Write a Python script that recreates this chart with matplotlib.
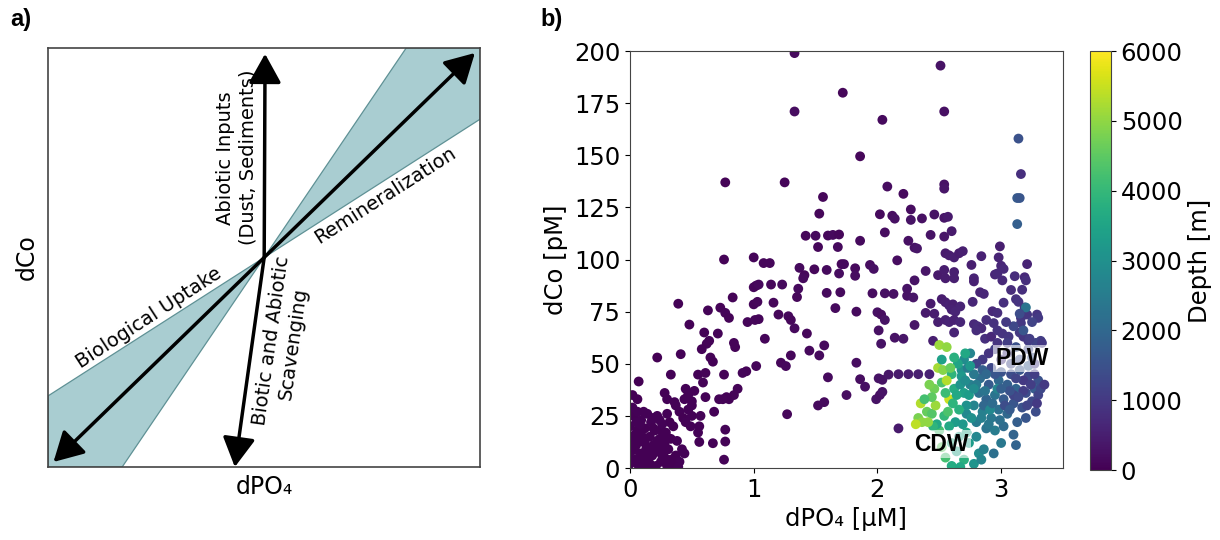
import numpy as np
import matplotlib
matplotlib.use("Agg")
import matplotlib.pyplot as plt
from matplotlib.patches import Polygon, FancyArrowPatch
from matplotlib.colors import Normalize

# ---- panel b data: dissolved PO4 [uM], dissolved Co [pM], sample depth [m] ----
# upper ocean samples
upper_po4 = [
    1.33, 2.51, 1.72, 1.33, 2.54, 2.04, 1.86, 0.77, 1.25, 2.54,
    2.54, 2.08, 2.21, 1.56, 2.27, 1.53, 2.02, 2.12, 2.14, 2.27,
    2.36, 2.46, 2.54, 2.57, 2.06, 2.60, 1.42, 1.50, 1.60, 1.64,
    1.69, 2.43, 2.54, 1.86, 2.25, 2.30, 2.32, 1.52, 1.68, 2.99,
    2.55, 2.58, 2.62, 2.66, 2.69, 0.76, 1.00, 2.16, 2.76, 2.84,
    2.98, 3.00, 3.02, 3.21, 1.08, 1.13, 1.37, 1.41, 1.40, 1.49,
    1.59, 1.71, 1.73, 1.69, 1.82, 1.82, 1.94, 1.97, 2.39, 2.49,
    2.54, 2.62, 2.55, 2.62, 2.78, 2.78, 2.95, 2.97, 3.01, 3.08,
    3.17, 3.19, 3.11, 3.20, 1.00, 1.02, 1.04, 1.14, 1.23, 2.24,
    2.13, 2.30, 1.70, 1.59, 1.35, 1.36, 1.96, 2.06, 2.24, 2.29,
    2.83, 2.86, 3.02, 3.12, 3.14, 0.83, 1.00, 1.03, 1.16, 0.39,
    2.43, 2.46, 2.52, 2.55, 2.58, 2.61, 2.67, 2.60, 2.63, 2.39,
    2.77, 2.93, 2.97, 3.19, 3.21, 3.29, 3.30, 3.16, 3.16, 1.66,
    1.83, 0.63, 0.73, 0.77, 0.80, 1.20, 1.28, 1.30, 1.33, 0.95,
    1.01, 1.04, 2.00, 2.03, 2.06, 2.30, 2.49, 2.55, 2.58, 2.62,
    2.67, 2.78, 2.81, 2.84, 2.88, 2.94, 2.62, 2.80, 3.01, 3.06,
    3.15, 3.18, 3.22, 3.32, 0.48, 0.71, 0.60, 0.64, 0.62, 0.84,
    0.85, 1.43, 2.01, 2.03, 2.14, 2.21, 2.45, 1.09, 1.57, 1.45,
    0.58, 0.65, 0.67, 0.22, 0.41, 1.30, 1.53, 1.22, 1.26, 1.83,
    1.02, 0.94, 0.91, 0.76, 0.33, 0.55, 0.61, 1.60, 1.86, 1.90,
    2.01, 2.04, 2.09, 2.17, 2.25, 2.33, 2.42, 1.99, 2.02, 2.04,
    1.75, 1.57, 1.52, 1.27, 2.17, 0.07, 0.02, 0.06, 0.28, 0.30,
    0.36, 0.77, 0.77, 0.67, 0.76, 0.80, 0.84, 0.87, 0.78, 0.45,
    0.47, 0.50, 0.44, 0.59, 0.61, 0.72, 0.75, 0.68, 0.37, 0.40,
    0.43, 0.45, 0.50, 0.50, 0.49, 0.57, 0.56, 0.55, 0.25, 0.29,
    0.24, 0.33, 0.38, 0.42, 0.37, 0.40, 0.44, 0.56, 0.35, 0.39,
    0.32, 0.30, 0.35, 0.47, 0.52,
]
upper_co = [
    199, 193, 180, 171, 171, 167, 149.5, 137, 137, 136,
    134, 135, 131.5, 130, 124, 122, 121.7, 121, 119.6, 119,
    119.7, 121.6, 120, 120.5, 113, 113.6, 111.4, 111.4, 111.5, 111.8,
    112, 111.8, 111, 109, 109, 105.7, 105.3, 106, 106, 106.3,
    103, 102, 101, 103, 104, 100, 101, 99.6, 97.4, 101.6,
    101, 97, 95.5, 97.8, 98.3, 98.3, 96, 92.5, 91, 95.3,
    95, 97.8, 97.8, 93.3, 95.8, 92.2, 97.4, 95.5, 94.5, 92.5,
    95, 94, 91, 91, 91, 89.5, 92.8, 93.3, 90, 85.4,
    85.5, 91.5, 92, 90, 86.7, 87.5, 88, 88, 88, 86,
    83.5, 90, 84.3, 84, 82, 86, 83.8, 83.8, 82.6, 81.8,
    84.3, 83.5, 79.3, 81, 79.7, 81.8, 78.5, 79.7, 79.3, 78.8,
    78.8, 74, 81, 79.5, 78, 78.5, 77.5, 76, 75, 74.4,
    79.7, 75.2, 74.4, 77, 73.6, 73.6, 72, 72, 69.5, 76.7,
    75, 75.6, 76.9, 74.4, 72, 73.6, 72.8, 71, 67, 70,
    71, 71.4, 74.7, 73.6, 71, 68.6, 70, 71, 70, 71,
    70, 69, 68, 67, 71, 69.5, 65, 66, 64.5, 63,
    65, 63, 61, 61, 68.8, 64.5, 65, 61, 59.6, 60,
    58, 64.5, 66, 59.6, 62.5, 62, 61, 62, 58.8, 56.3,
    57, 53, 51, 53, 54.6, 54, 54, 50.5, 48.9, 50.5,
    48.9, 46.4, 45.6, 44.8, 44.8, 44.8, 45.6, 43.5, 42.6, 39,
    43, 42.3, 44.8, 45, 45, 45, 45, 33, 35, 36.5,
    35, 31.6, 30, 25.8, 19, 41.5, 35, 33, 36, 33,
    31.6, 18.4, 12.7, 11.9, 4, 33, 35, 38, 34, 38,
    35, 32, 33, 41, 34, 33, 33, 27, 30, 27,
    24, 22, 30, 25, 20, 25, 20, 17, 18, 15,
    12, 14, 13, 9, 6, 3, 7, 12.5, 1, 0.5,
    22, 26, 20, 28, 37,
]
upper_depth = [
    150, 300, 100, 200, 250, 150, 100, 50, 80, 300,
    350, 200, 150, 100, 200, 100, 150, 200, 250, 300,
    250, 300, 350, 400, 200, 400, 100, 150, 100, 150,
    100, 300, 350, 150, 250, 300, 350, 100, 150, 500,
    400, 450, 500, 450, 500, 50, 80, 200, 500, 550,
    600, 650, 700, 600, 100, 100, 150, 100, 150, 100,
    150, 100, 150, 200, 150, 200, 200, 250, 350, 400,
    450, 500, 450, 500, 600, 550, 650, 700, 700, 750,
    800, 700, 750, 800, 100, 80, 120, 100, 150, 300,
    250, 300, 150, 150, 100, 150, 200, 250, 300, 350,
    600, 650, 800, 850, 900, 50, 80, 100, 100, 30,
    400, 450, 450, 500, 550, 500, 600, 550, 600, 400,
    650, 700, 750, 900, 950, 900, 1000, 950, 1000, 150,
    150, 50, 50, 80, 60, 100, 120, 100, 150, 80,
    100, 80, 250, 200, 300, 350, 500, 550, 600, 550,
    650, 700, 750, 700, 800, 850, 600, 750, 900, 950,
    1000, 950, 1000, 1100, 40, 50, 40, 50, 60, 50,
    60, 100, 250, 300, 300, 350, 500, 80, 150, 120,
    40, 50, 40, 20, 30, 100, 150, 100, 120, 200,
    80, 60, 80, 50, 30, 40, 50, 150, 200, 250,
    300, 300, 350, 400, 450, 500, 550, 300, 250, 300,
    200, 150, 150, 100, 400, 20, 15, 20, 25, 30,
    30, 50, 60, 40, 50, 50, 60, 50, 40, 40,
    30, 40, 30, 50, 40, 50, 60, 40, 30, 30,
    20, 30, 40, 30, 40, 50, 40, 30, 20, 20,
    15, 20, 25, 30, 20, 25, 30, 40, 20, 25,
    20, 25, 20, 30, 40,
]

# shelf / surface samples crowded near the origin
shelf_po4 = [
    0.00, 0.01, 0.02, 0.00, 0.03, 0.04, 0.05, 0.06, 0.07, 0.08,
    0.09, 0.10, 0.11, 0.12, 0.13, 0.14, 0.15, 0.16, 0.17, 0.18,
    0.19, 0.20, 0.21, 0.22, 0.23, 0.24, 0.25, 0.26, 0.27, 0.28,
    0.29, 0.30, 0.31, 0.33, 0.02, 0.06, 0.09, 0.12, 0.04, 0.14,
    0.18, 0.20, 0.08, 0.16, 0.01, 0.22, 0.26, 0.11, 0.03, 0.19,
    0.13, 0.07, 0.24, 0.17, 0.28, 0.10, 0.05,
]
shelf_co = [
    2, 8, 14, 20, 25, 4, 11, 18, 1, 7,
    23, 13, 4, 19, 9, 26, 2, 15, 22, 6,
    11, 18, 1, 25, 8, 14, 3, 21, 10, 5,
    17, 1, 9, 4, 29, 27, 16, 12, 16, 6,
    24, 9, 21, 2, 4, 13, 6, 27, 10, 19,
    1, 13, 23, 9, 12, 0, 22,
]
shelf_depth = [
    5, 10, 15, 20, 10, 5, 15, 20, 5, 10,
    25, 15, 10, 20, 15, 30, 5, 20, 25, 10,
    15, 20, 5, 30, 10, 20, 5, 25, 15, 10,
    20, 5, 15, 10, 30, 30, 20, 15, 20, 10,
    25, 15, 25, 5, 10, 15, 10, 30, 15, 20,
    5, 15, 25, 15, 20, 5, 25,
]

# Pacific Deep Water
pdw_po4 = [
    3.14, 3.16, 3.13, 3.15, 3.13, 3.20, 3.15, 3.25, 3.10, 3.18,
    3.05, 3.12, 3.22, 3.28, 3.33, 2.95, 2.90, 2.85, 2.80, 2.92,
    3.00, 3.08, 3.15, 3.22, 3.30, 3.27, 3.20, 3.12, 3.05, 2.98,
    2.90, 2.83, 2.78, 2.75, 2.82, 2.88, 2.95, 3.02, 3.10, 3.17,
    3.25, 3.30, 3.28, 3.20, 3.13, 3.05, 2.98, 2.92, 2.85, 2.78,
    2.72, 2.80, 2.88, 2.95, 3.02, 3.10, 3.00, 3.12, 2.94, 3.18,
    3.08, 3.00, 2.87, 2.92, 2.97, 3.04, 2.70, 2.75, 2.68, 2.73,
    2.85, 2.95, 3.15, 3.22, 3.25, 3.10, 2.97, 3.03, 2.86, 2.91,
    3.27, 3.32, 3.35, 3.18, 3.24, 3.29, 3.21, 3.14, 3.07, 3.00,
    2.93, 2.87, 2.80, 2.84, 2.90, 2.99, 3.07, 3.23, 3.27, 3.12,
    3.05, 2.97, 2.88,
]
pdw_co = [
    158, 141, 129.5, 129.5, 117, 77, 74, 70, 68, 66,
    60, 58, 57, 60, 60, 57, 55, 52, 50, 48,
    46, 45, 47, 44, 42, 38, 36, 38, 40, 42,
    40, 43, 45, 40, 36, 33, 35, 33, 31, 29,
    32, 35, 27, 24, 22, 26, 28, 24, 27, 30,
    26, 22, 19, 18, 20, 16, 12, 11, 7, 37,
    50, 52, 62, 63, 66, 70, 52, 55, 47, 48,
    47, 45, 52, 49, 53, 35, 38, 30, 30, 28,
    45, 38, 40, 42, 40, 31, 30, 34, 37, 38,
    31, 37, 40, 24, 21, 23, 28, 62, 50, 43,
    55, 60, 45,
]
pdw_depth = [
    1500, 800, 1700, 1600, 1800, 2300, 1400, 1200, 1300, 1600,
    1100, 1500, 1300, 1200, 1000, 1100, 900, 1000, 1200, 1300,
    1500, 1400, 1600, 1300, 1500, 1700, 1400, 1900, 1800, 2000,
    1700, 2100, 2400, 2600, 2200, 1900, 2300, 1700, 1600, 1500,
    1300, 1200, 1400, 1600, 1800, 2000, 2200, 2400, 2600, 2700,
    2800, 2500, 2300, 2500, 2100, 1900, 2400, 1900, 2200, 1100,
    1300, 900, 800, 700, 900, 1000, 2900, 2700, 3000, 2500,
    1800, 1600, 1400, 1700, 1500, 1200, 2700, 1400, 2000, 2800,
    1100, 1300, 1000, 1000, 1100, 1000, 1200, 1300, 1500, 1800,
    2100, 2300, 2500, 2600, 2400, 2200, 1700, 1100, 1000, 1200,
    1000, 900, 2000,
]

# Circumpolar Deep Water
cdw_po4 = [
    2.50, 2.56, 2.49, 2.53, 2.35, 2.33, 2.36, 2.31, 2.40, 2.44,
    2.46, 2.47, 2.58, 2.52, 2.55, 2.60, 2.62, 2.65, 2.68, 2.70,
    2.72, 2.66, 2.63, 2.58, 2.54, 2.50, 2.48, 2.44, 2.42, 2.52,
    2.57, 2.61, 2.64, 2.67, 2.71, 2.74, 2.76, 2.69, 2.66, 2.60,
    2.55, 2.60, 2.64, 2.70, 2.74, 2.78, 2.82, 2.86, 2.72, 2.45,
    2.38, 2.41, 2.56, 2.59, 2.62, 2.71, 2.75, 2.78, 2.80, 2.84,
    2.67, 2.52,
]
cdw_co = [
    59, 58, 48, 47, 31, 24, 22, 21, 27, 26,
    38, 30, 33, 41, 36, 45, 38, 50, 44, 36,
    30, 28, 22, 20, 25, 18, 21, 34, 40, 52,
    27, 31, 35, 40, 42, 35, 24, 21, 15, 12,
    5, 1, 8, 4, 12, 2, 7, 9, 17, 20,
    33, 22, 42, 48, 53, 55, 49, 38, 15, 4,
    0.5, 10,
]
cdw_depth = [
    5100, 5000, 5200, 4900, 5300, 4800, 5000, 5400, 4600, 4400,
    4700, 5100, 5500, 4300, 4100, 3900, 3700, 3500, 3200, 3400,
    3000, 3800, 3300, 3600, 4000, 4200, 3600, 4500, 4800, 3400,
    4300, 3900, 3600, 3100, 2900, 3300, 3000, 3200, 3400, 3700,
    4200, 3700, 3500, 3800, 3300, 3100, 2900, 2600, 3500, 3900,
    4200, 5000, 5300, 4600, 3800, 3600, 3200, 2900, 2800, 2700,
    3600, 4500,
]

# ---- panel a schematic geometry (axes fraction) ----
origin = (0.5, 0.5)
wedge_slopes = [0.66, 1.52]          # edges of the shaded uptake/remin band
diag_tips = [(0.012, 0.012), (0.988, 0.988)]
input_tip = (0.502, 0.986)
scav_tip = (0.432, 0.0)

band_fill = "#a9cdd1"
band_edge = "#5f9195"

fig = plt.figure(figsize=(12.2, 5.4), dpi=100)

# ================= panel a =================
ax_a = fig.add_axes([0.0396, 0.1352, 0.3539, 0.776])
ax_a.set_xlim(0, 1)
ax_a.set_ylim(0, 1)
ax_a.set_xticks([])
ax_a.set_yticks([])
for sp in ax_a.spines.values():
    sp.set_color("#444444")
    sp.set_linewidth(1.2)

x0, y0 = origin
lo, hi = wedge_slopes
# upper-right band: between the shallow and steep edge through the origin
up = [origin, (x0 + 0.5 / hi, 1), (1, 1), (1, y0 + 0.5 * lo)]
dn = [origin, (0, y0 - 0.5 * lo), (0, 0), (x0 - 0.5 / hi, 0)]
for pts in (up, dn):
    ax_a.add_patch(Polygon(pts, closed=True, fc=band_fill, ec=band_edge,
                           lw=0.9, zorder=1))

arrow_kw = dict(mutation_scale=20, lw=2.5, color="black", shrinkA=0,
                shrinkB=0, zorder=3)
ax_a.add_patch(FancyArrowPatch(diag_tips[0], diag_tips[1],
                               arrowstyle="<|-|>,head_length=0.9,head_width=0.5",
                               **arrow_kw))
ax_a.add_patch(FancyArrowPatch(origin, input_tip,
                               arrowstyle="-|>,head_length=0.9,head_width=0.5",
                               **arrow_kw))
ax_a.add_patch(FancyArrowPatch(origin, scav_tip,
                               arrowstyle="-|>,head_length=0.9,head_width=0.5",
                               **arrow_kw))

txt_kw = dict(fontsize=14, ha="center", va="center",
              rotation_mode="anchor", zorder=4)
ax_a.text(0.437, 0.738, "Abiotic Inputs\n(Dust, Sediments)", rotation=90, **txt_kw)
ax_a.text(0.78, 0.649, "Remineralization", rotation=32.5, **txt_kw)
ax_a.text(0.234, 0.355, "Biological Uptake", rotation=33, **txt_kw)
ax_a.text(0.541, 0.297, "Biotic and Abiotic\nScavenging", rotation=82, **txt_kw)

ax_a.set_xlabel("dPO₄", fontsize=17, labelpad=6)
ax_a.set_ylabel("dCo", fontsize=17, labelpad=7)

# ================= panel b =================
ax_b = fig.add_axes([0.5164, 0.1333, 0.3549, 0.7722])
po4 = np.concatenate([upper_po4, shelf_po4, pdw_po4, cdw_po4])
co = np.concatenate([upper_co, shelf_co, pdw_co, cdw_co])
depth = np.concatenate([upper_depth, shelf_depth, pdw_depth, cdw_depth])

norm = Normalize(vmin=0, vmax=6000)
sc = ax_b.scatter(po4, co, c=depth, cmap="viridis", norm=norm, s=50,
                  linewidths=0, zorder=2)
ax_b.set_xlim(0, 3.5)
ax_b.set_ylim(0, 200)
ax_b.set_xticks([0, 1, 2, 3])
ax_b.set_yticks(np.arange(0, 201, 25))
ax_b.tick_params(labelsize=17.5)
for sp in ax_b.spines.values():
    sp.set_color("#444444")
ax_b.set_xlabel("dPO₄ [µM]", fontsize=17.5)
ax_b.set_ylabel("dCo [pM]", fontsize=17.5)

box = dict(boxstyle="square,pad=0.1", fc="white", ec="none", alpha=0.6)
ax_b.text(3.17, 52.5, "PDW", fontsize=16.5, fontweight="bold",
          family="Liberation Sans", ha="center", va="center", bbox=box, zorder=5)
ax_b.text(2.52, 11.5, "CDW", fontsize=16.5, fontweight="bold",
          family="Liberation Sans", ha="center", va="center", bbox=box, zorder=5)

cax = fig.add_axes([0.8934, 0.1296, 0.0172, 0.7759])
cb = fig.colorbar(sc, cax=cax)
cb.set_ticks(np.arange(0, 6001, 1000))
cb.ax.tick_params(labelsize=17.5)
cb.set_label("Depth [m]", fontsize=17.5)
cb.outline.set_edgecolor("#444444")

fig.text(0.008, 0.985, "a)", fontsize=17, fontweight="bold",
         family="Liberation Sans", ha="left", va="top")
fig.text(0.443, 0.985, "b)", fontsize=17, fontweight="bold",
         family="Liberation Sans", ha="left", va="top")

fig.savefig("out.png", dpi=100)
